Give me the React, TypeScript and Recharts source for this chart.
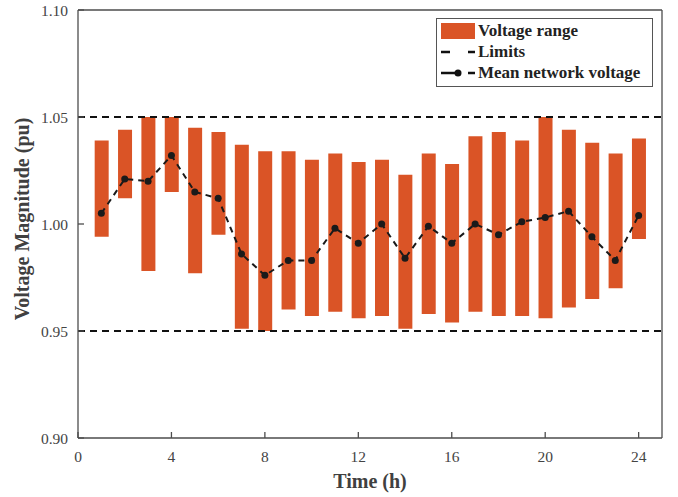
import { ComposedChart, Bar, Line, XAxis, YAxis, ReferenceLine, Legend } from 'recharts'

const hours = [1, 2, 3, 4, 5, 6, 7, 8, 9, 10, 11, 12, 13, 14, 15, 16, 17, 18, 19, 20, 21, 22, 23, 24]
const vMax = [1.039, 1.044, 1.050, 1.050, 1.045, 1.043, 1.037, 1.034, 1.034, 1.030, 1.033, 1.029,
  1.030, 1.023, 1.033, 1.028, 1.041, 1.043, 1.039, 1.050, 1.044, 1.038, 1.033, 1.040]
const vMin = [0.994, 1.012, 0.978, 1.015, 0.977, 0.995, 0.951, 0.950, 0.960, 0.957, 0.959, 0.956,
  0.957, 0.951, 0.958, 0.954, 0.959, 0.957, 0.957, 0.956, 0.961, 0.965, 0.970, 0.993]
const vMean = [1.005, 1.021, 1.020, 1.032, 1.015, 1.012, 0.986, 0.976, 0.983, 0.983, 0.998, 0.991,
  1.000, 0.984, 0.999, 0.991, 1.000, 0.995, 1.001, 1.003, 1.006, 0.994, 0.983, 1.004]
const limits = [0.95, 1.05]
const xTicks = [0, 4, 8, 12, 16, 20, 24]
const yTicks = [0.9, 0.95, 1.0, 1.05, 1.1]

const data = hours.map((h, i) => ({ hour: h, range: [vMin[i], vMax[i]], mean: vMean[i] }))

const FONT = '"Liberation Serif", "Times New Roman", serif'
const ORANGE = '#DA5426'
const AXIS = '#4d4d4d'

const LegendBox = () => {
  const row = { display: 'flex', alignItems: 'center', height: 21 }
  return (
    <div style={{ border: '1px solid #555', background: '#fff', padding: '1px 3px 3px 4px', fontFamily: FONT, fontWeight: 'bold', fontSize: 17, color: '#222' }}>
      <div style={row}>
        <svg width={34} height={16} style={{ marginRight: 3 }}><rect x={0} y={0} width={34} height={16} fill={ORANGE} /></svg>
        Voltage range
      </div>
      <div style={row}>
        <svg width={34} height={16} style={{ marginRight: 3 }}><line x1={0} y1={8} x2={34} y2={8} stroke="#111" strokeWidth={2.5} strokeDasharray="9 18 7" /></svg>
        Limits
      </div>
      <div style={row}>
        <svg width={34} height={16} style={{ marginRight: 3 }}>
          <line x1={0} y1={8} x2={34} y2={8} stroke="#111" strokeWidth={2.5} strokeDasharray="18 9 7" />
          <circle cx={17} cy={8} r={3.5} fill="#111" />
        </svg>
        Mean network voltage
      </div>
    </div>
  )
}

const YTitle = (props: any) => {
  const vb = props.viewBox
  const cx = vb.x + 29
  const cy = 219
  return (
    <text x={cx} y={cy} transform={`rotate(-90, ${cx}, ${cy})`} textAnchor="middle"
      fontFamily={FONT} fontWeight="bold" fontSize={20} fill="#404040">
      Voltage Magnitude (pu)
    </text>
  )
}

const App = () => {
  const tickStyle = { fontFamily: FONT, fontSize: 15.5, fill: '#444' }
  return (
    <div style={{ position: 'absolute', left: 0, top: 0, background: '#fff' }}>
      <ComposedChart width={678} height={497} data={data} margin={{ top: 10, right: 16, bottom: 4, left: 0 }}>
        <XAxis dataKey="hour" type="number" domain={[0, 25]} ticks={xTicks} allowDecimals={false}
          height={55} stroke={AXIS} strokeWidth={1.3} tickSize={-6} tickMargin={19} tick={tickStyle}
          label={{ value: 'Time (h)', position: 'insideBottom', offset: 5, fontFamily: FONT, fontWeight: 'bold', fontSize: 20, fill: '#404040' }} />
        <XAxis xAxisId="top" orientation="top" mirror type="number" domain={[0, 25]} ticks={xTicks}
          stroke={AXIS} strokeWidth={1.3} tickSize={6} tick={false} />
        <YAxis type="number" domain={[0.9, 1.1]} ticks={yTicks} width={78} stroke={AXIS} strokeWidth={1.3}
          tickSize={-6} tickMargin={16} tick={tickStyle} tickFormatter={(v: number) => v.toFixed(2)}
          label={YTitle} />
        <YAxis yAxisId="right" orientation="right" mirror type="number" domain={[0.9, 1.1]} ticks={yTicks}
          stroke={AXIS} strokeWidth={1.3} tickSize={6} tick={false} />
        {limits.map(l => (
          <ReferenceLine key={l} y={l} stroke="#111" strokeWidth={2} strokeDasharray="7 5" />
        ))}
        <Bar dataKey="range" fill={ORANGE} barSize={14} isAnimationActive={false} />
        <Line dataKey="mean" stroke="#1a1a1a" strokeWidth={2} strokeDasharray="6 5"
          dot={{ r: 3.5, fill: '#1a1a1a', stroke: '#1a1a1a', strokeWidth: 0, strokeDasharray: '' }}
          isAnimationActive={false} />
        <Legend layout="vertical" align="center" verticalAlign="middle" content={<LegendBox />}
          wrapperStyle={{ left: 436, top: 18, width: 217, height: 70 }} />
      </ComposedChart>
    </div>
  )
}

export default App
